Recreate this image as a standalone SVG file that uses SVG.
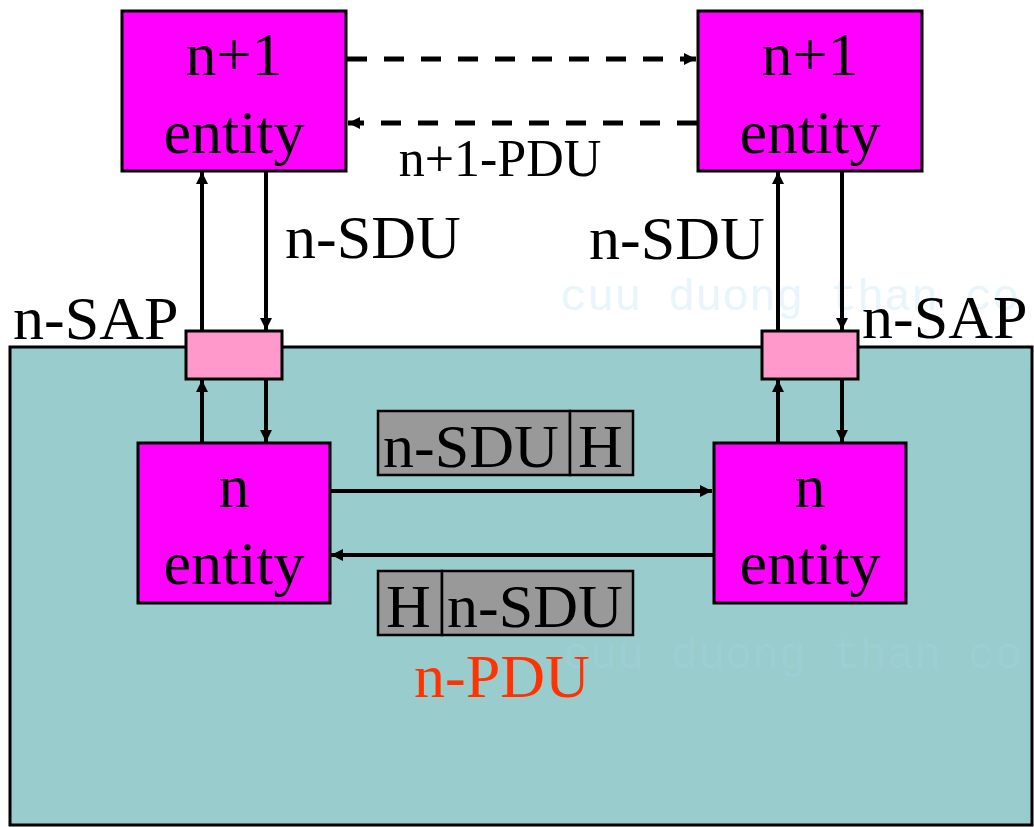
<svg xmlns="http://www.w3.org/2000/svg" width="1034" height="827" viewBox="0 0 1034 827">
  <style>
    .ent { fill: #FF00FF; stroke: #000; stroke-width: 3; }
    .sap { fill: #FF99CC; stroke: #000; stroke-width: 3; }
    .hdr { fill: #999999; stroke: #000; stroke-width: 2.5; }
    .t { font-family: "Liberation Serif", "Times New Roman", serif; font-size: 62px; fill: #000; }
    .tc { text-anchor: middle; }
    .wm { font-family: "Liberation Mono", "DejaVu Sans Mono", monospace; font-size: 45px; fill: #a8d8ee; opacity: 0.25; }
    .ln { stroke: #000; stroke-width: 4; fill: none; }
    .dash { stroke: #000; stroke-width: 5; fill: none; stroke-dasharray: 20 17; }
  </style>
  <defs>
    <marker id="ah" viewBox="0 0 10 10" refX="10" refY="5" markerWidth="3" markerHeight="3" orient="auto" markerUnits="strokeWidth">
      <path d="M0,0 L10,5 L0,10 z" fill="#000"/>
    </marker>
    <marker id="ahd" viewBox="0 0 10 10" refX="10" refY="5" markerWidth="2.4" markerHeight="2.4" orient="auto" markerUnits="strokeWidth">
      <path d="M0,0 L10,5 L0,10 z" fill="#000"/>
    </marker>
  </defs>
  <rect width="1034" height="827" fill="#fff"/>

  <g id="layer-n">
    <rect x="10" y="347" width="1022" height="478" fill="#99CCCC" stroke="#000" stroke-width="3"/>
  </g>

  <text class="wm" x="560" y="310">cuu duong than co</text>
  <text class="wm" x="563" y="668">cuu duong than co</text>

  <g id="connectors">
    <line class="dash" x1="347" y1="59" x2="696" y2="59" marker-end="url(#ahd)"/>
    <line class="dash" x1="697" y1="123" x2="348" y2="123" marker-end="url(#ahd)"/>
    <line class="ln" x1="202" y1="331" x2="202" y2="172" marker-end="url(#ah)"/>
    <line class="ln" x1="266" y1="171" x2="266" y2="330" marker-end="url(#ah)"/>
    <line class="ln" x1="202" y1="443" x2="202" y2="380" marker-end="url(#ah)"/>
    <line class="ln" x1="266" y1="379" x2="266" y2="442" marker-end="url(#ah)"/>
    <line class="ln" x1="778" y1="331" x2="778" y2="172" marker-end="url(#ah)"/>
    <line class="ln" x1="842" y1="171" x2="842" y2="330" marker-end="url(#ah)"/>
    <line class="ln" x1="778" y1="443" x2="778" y2="380" marker-end="url(#ah)"/>
    <line class="ln" x1="842" y1="379" x2="842" y2="442" marker-end="url(#ah)"/>
    <line class="ln" x1="329" y1="491" x2="712" y2="491" marker-end="url(#ah)"/>
    <line class="ln" x1="714" y1="555" x2="331" y2="555" marker-end="url(#ah)"/>
  </g>

  <g id="n1-entity-left">
    <rect class="ent" x="122" y="11" width="224" height="160"/>
    <text class="t tc" x="234" y="75">n+1</text>
    <text class="t tc" x="234" y="153">entity</text>
  </g>
  <g id="n1-entity-right">
    <rect class="ent" x="698" y="11" width="224" height="160"/>
    <text class="t tc" x="810" y="75">n+1</text>
    <text class="t tc" x="810" y="153">entity</text>
  </g>

  <g id="sap-left">
    <rect class="sap" x="186" y="331" width="96" height="48"/>
  </g>
  <g id="sap-right">
    <rect class="sap" x="762" y="331" width="96" height="48"/>
  </g>

  <g id="n-entity-left">
    <rect class="ent" x="138" y="443" width="192" height="160"/>
    <text class="t tc" x="234" y="507">n</text>
    <text class="t tc" x="234" y="584">entity</text>
  </g>
  <g id="n-entity-right">
    <rect class="ent" x="714" y="443" width="192" height="160"/>
    <text class="t tc" x="810" y="507">n</text>
    <text class="t tc" x="810" y="584">entity</text>
  </g>

  <g id="pdu-top">
    <rect class="hdr" x="378" y="411" width="192" height="64"/>
    <rect class="hdr" x="570" y="411" width="63" height="64"/>
    <text class="t" x="383" y="467">n-SDU</text>
    <text class="t" x="578" y="467">H</text>
  </g>
  <g id="pdu-bottom">
    <rect class="hdr" x="378" y="571" width="64" height="64"/>
    <rect class="hdr" x="442" y="571" width="191" height="64"/>
    <text class="t" x="386" y="627">H</text>
    <text class="t" x="447" y="627">n-SDU</text>
  </g>

  <g id="labels">
    <text class="t" x="500" y="176" text-anchor="middle" style="font-size:52px">n+1-PDU</text>
    <text class="t" x="285" y="258">n-SDU</text>
    <text class="t" x="589" y="259">n-SDU</text>
    <text class="t" x="13" y="339">n-SAP</text>
    <text class="t" x="862" y="338">n-SAP</text>
    <text class="t" x="414" y="697" style="fill:#FF3300">n-PDU</text>
  </g>
</svg>
